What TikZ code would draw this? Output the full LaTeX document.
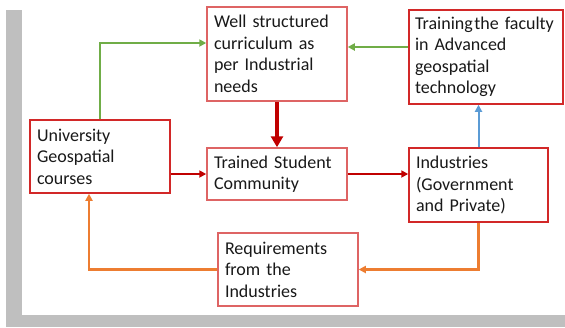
\documentclass[tikz,border=0pt]{standalone}
\usepackage{fontspec}
\setmainfont{Carlito}
\usepackage{tikz}
\usetikzlibrary{arrows.meta}
\definecolor{boxred}{RGB}{210,40,40}
\definecolor{boxpink}{RGB}{222,100,100}
\definecolor{arrred}{RGB}{192,0,0}
\definecolor{arrgreen}{RGB}{112,173,71}
\definecolor{arrorange}{RGB}{237,125,49}
\definecolor{arrblue}{RGB}{91,155,213}
\definecolor{framegray}{RGB}{191,191,191}
\tikzset{>={Triangle[length=7pt,width=7pt]}}
\tikzset{
  blk/.style={draw=boxred, line width=1.5pt, fill=white, align=left,
    inner xsep=7pt, inner ysep=0pt, text=black!90,
    font=\fontsize{18}{21.5}\selectfont},
  blkpale/.style={blk, draw=boxpink},
  flow/.style={->, line width=2pt},
}

\begin{document}
\begin{tikzpicture}[x=1pt,y=-1pt]
\useasboundingbox (0,0) rectangle (565,327);

% ================= Frame =================
\fill[framegray] (6,10) rectangle (565,327);
\fill[white] (22,0) rectangle (565,315);

% ================= Boxes =================
\node[blk, text width=126pt, minimum height=73pt] (univ) at (100,156.5)
  {University\\Geospatial\\courses};
\node[blkpale, text width=126pt, minimum height=94pt] (curr) at (277,54)
  {Well structured\\curriculum as\\per Industrial\\needs};
\node[blk, text width=142pt, inner xsep=6pt, minimum height=94pt] (train) at (486,57)
  {\mbox{Training\hspace{1.5pt}the faculty}\\in Advanced\\geospatial\\technology};
\node[blkpale, text width=126pt, minimum height=52pt] (stud) at (277,174)
  {Trained Student\\Community};
\node[blk, text width=125pt, minimum height=74pt] (ind) at (478.5,185)
  {Industries\\(Government\\and Private)};
\node[blkpale, text width=126pt, minimum height=73pt] (req) at (288,269.5)
  {Requirements\\from the\\Industries};

% ================= Connectors =================
\draw[flow, arrgreen] (univ.north) |- ([yshift=11pt]curr.west);
\draw[flow, arrgreen] ([yshift=10pt]train.west) -- ([yshift=7pt]curr.east);

\draw[->, arrred, line width=3.2pt, >={Triangle[length=11pt,width=12pt]}]
  (curr.south) -- (stud.north);
\draw[flow, arrred, line width=2.4pt]
  ([yshift=-17.5pt]univ.east) -- (stud.west);
\draw[flow, arrred, line width=2.4pt]
  (stud.east) -- ([yshift=11pt]ind.west);

\draw[flow, arrblue] (ind.north) -- (ind.north |- train.south);

\draw[flow, arrorange, line width=2.4pt] (ind.south) |- (req.east);
\draw[flow, arrorange, line width=2.4pt]
  (req.west) -| ([xshift=-11pt]univ.south);
\end{tikzpicture}
\end{document}
